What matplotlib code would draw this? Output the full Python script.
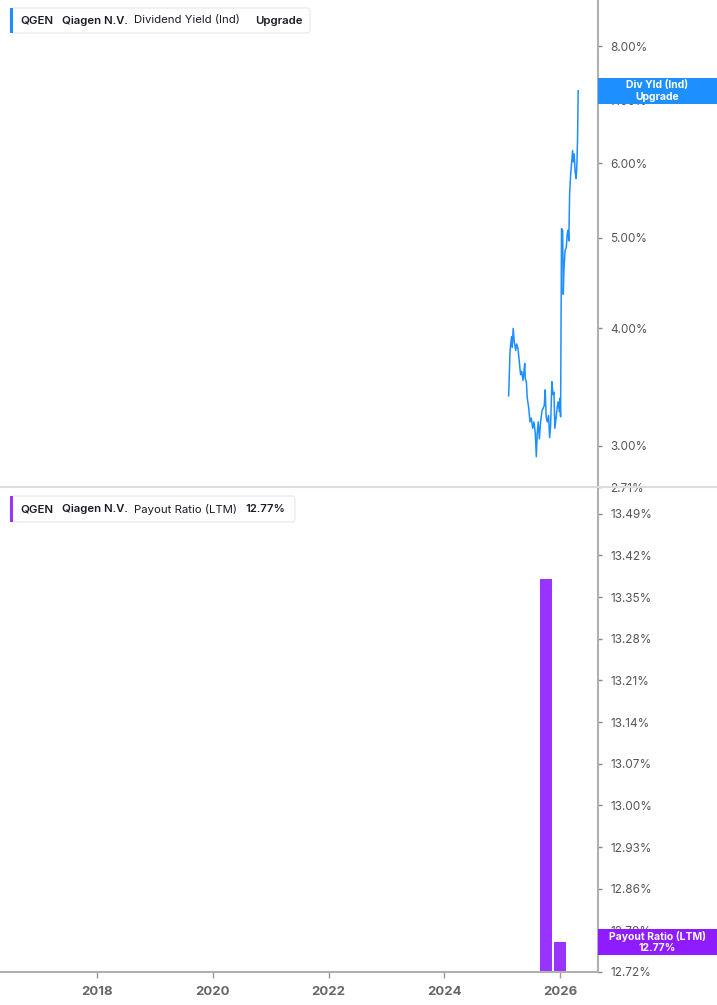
import matplotlib
matplotlib.use("Agg")
import matplotlib.pyplot as plt
import matplotlib.dates as mdates
import matplotlib.ticker as mticker
from matplotlib.lines import Line2D
from matplotlib.patches import Rectangle, FancyBboxPatch
import pandas as pd

plt.rcParams['font.family'] = ['Inter', 'DejaVu Sans']

# dividend yield (Ind), %
yield_dates = ['2025-02-09', '2025-02-11', '2025-02-18', '2025-02-22', '2025-02-28',
               '2025-03-04', '2025-03-10', '2025-03-17', '2025-03-26', '2025-04-01',
               '2025-04-09', '2025-04-16', '2025-04-22', '2025-04-26', '2025-05-03',
               '2025-05-11', '2025-05-17', '2025-05-22', '2025-05-25', '2025-06-01',
               '2025-06-07', '2025-06-16', '2025-06-24', '2025-07-02', '2025-07-11',
               '2025-07-19', '2025-07-27', '2025-08-03', '2025-08-09', '2025-08-15',
               '2025-08-22', '2025-08-30', '2025-09-08', '2025-09-16', '2025-09-22',
               '2025-09-28', '2025-10-04', '2025-10-11', '2025-10-19', '2025-10-26',
               '2025-11-01', '2025-11-09', '2025-11-16', '2025-11-22', '2025-11-28',
               '2025-12-07', '2025-12-13', '2025-12-19', '2025-12-26', '2025-12-30',
               '2026-01-03', '2026-01-09', '2026-01-16', '2026-01-20', '2026-01-24',
               '2026-01-31', '2026-02-08', '2026-02-14', '2026-02-20', '2026-02-24',
               '2026-03-01', '2026-03-07', '2026-03-13', '2026-03-20', '2026-03-24',
               '2026-03-30', '2026-04-05', '2026-04-11', '2026-04-16', '2026-04-20',
               '2026-04-24']
yield_values = [3.39, 3.45, 3.78, 3.84, 3.92,
                3.82, 4.00, 3.87, 3.79, 3.85,
                3.81, 3.71, 3.62, 3.57, 3.60,
                3.52, 3.60, 3.67, 3.54, 3.51,
                3.37, 3.29, 3.18, 3.21, 3.13,
                3.18, 3.10, 2.92, 3.10, 3.18,
                3.05, 3.18, 3.27, 3.29, 3.31,
                3.44, 3.22, 3.18, 3.23, 3.06,
                3.15, 3.51, 3.40, 3.42, 3.13,
                3.23, 3.30, 3.34, 3.26, 3.37,
                3.22, 5.11, 5.09, 4.35, 4.61,
                4.84, 4.88, 5.05, 5.09, 4.96,
                5.57, 5.82, 5.99, 6.19, 6.02,
                6.14, 5.87, 5.78, 5.99, 6.37,
                7.17]

# payout ratio (LTM), %
payout_dates = ['2025-09-30', '2025-12-31']
payout_values = [13.38, 12.77]

yield_ticks = [2.71, 3, 4, 5, 6, 7, 8]
payout_ticks = [12.72, 12.79, 12.86, 12.93, 13.00, 13.07, 13.14, 13.21, 13.28, 13.35, 13.42, 13.49]
year_ticks = ['2018', '2020', '2022', '2024', '2026']

blue = '#1e8fff'
purple = '#9933ff'
purple_lbl = '#8f1bff'
grey_txt = '#555555'

W, H = 717, 1005
fig = plt.figure(figsize=(W / 100, H / 100), dpi=100)
right = 598 / W
ax1 = fig.add_axes([0, 1 - 487 / H, right, 487 / H])
ax2 = fig.add_axes([0, 1 - 972 / H, right, (972 - 487) / H], sharex=ax1)

yd = pd.to_datetime(yield_dates)
pd_ = pd.to_datetime(payout_dates)

ax1.plot(yd, yield_values, color=blue, lw=1.1)
ax1.set_yscale('log')
ax1.set_ylim(2.71, 8.96)
ax1.yaxis.set_major_locator(mticker.FixedLocator(yield_ticks))
ax1.yaxis.set_minor_locator(mticker.NullLocator())
ax1.yaxis.set_major_formatter(mticker.FuncFormatter(lambda v, p: '%.2f%%' % v))

ax2.bar(pd_, payout_values, width=76, color=purple)
ax2.set_ylim(12.72, 13.535)
ax2.yaxis.set_major_locator(mticker.FixedLocator(payout_ticks))
ax2.yaxis.set_major_formatter(mticker.FuncFormatter(lambda v, p: '%.2f%%' % v))

ax2.set_xlim(pd.Timestamp('2016-04-29'), pd.Timestamp('2026-08-27'))
ax2.xaxis.set_major_locator(mticker.FixedLocator([mdates.date2num(pd.Timestamp(y + '-01-01')) for y in year_ticks]))
ax2.xaxis.set_major_formatter(mticker.FixedFormatter(year_ticks))

for ax in (ax1, ax2):
    ax.set_facecolor('none')
    ax.yaxis.tick_right()
    for s in ('top', 'left', 'bottom'):
        ax.spines[s].set_visible(False)
    ax.spines['right'].set_color('#b0b0b0')
    ax.spines['right'].set_linewidth(1.5)
    ax.tick_params(axis='y', which='major', length=3, width=1, color='#888888',
                   labelsize=8.5, labelcolor=grey_txt, pad=6)

ax1.tick_params(axis='x', which='both', bottom=False, labelbottom=False)
ax2.spines['bottom'].set_visible(True)
ax2.spines['bottom'].set_color('#b0b0b0')
ax2.spines['bottom'].set_linewidth(1.5)
ax2.tick_params(axis='x', length=4, width=1, color='#999999', labelsize=9.5,
                labelcolor='#666666', pad=6)
for t in ax2.get_xticklabels():
    t.set_fontweight('bold')

# divider between panes
fig.add_artist(Line2D([0, 1], [1 - 487 / H, 1 - 487 / H], transform=fig.transFigure,
                      color='#dddddd', lw=1.5))


def legend_box(y0, y1, x1, color, parts):
    fig.add_artist(FancyBboxPatch((10 / W, 1 - y1 / H), (x1 - 10) / W, (y1 - y0) / H,
                                  boxstyle='round,pad=0,rounding_size=0.004',
                                  transform=fig.transFigure, facecolor='white',
                                  edgecolor='#ececec', lw=1))
    fig.add_artist(Rectangle((10 / W, 1 - y1 / H), 3 / W, (y1 - y0) / H,
                             transform=fig.transFigure, facecolor=color, edgecolor='none'))
    ym = 1 - (y0 + y1) / 2 / H
    for x, s, bold in parts:
        fig.text(x / W, ym, s, fontsize=8.2, color='#1c1c28', va='center', ha='left',
                 fontweight='semibold' if bold else 'normal')


legend_box(8, 33, 310, blue, [(20, 'QGEN', True), (62, 'Qiagen N.V.', True),
                              (134, 'Dividend Yield (Ind)', False), (255, 'Upgrade', True)])
legend_box(496, 522, 295, purple, [(20, 'QGEN', True), (62, 'Qiagen N.V.', True),
                                   (134, 'Payout Ratio (LTM)', False), (245, '12.77%', True)])


def last_label(ax, val, color, lines):
    yfig = fig.transFigure.inverted().transform(ax.transData.transform((0, val)))[1]
    h = 26 / H
    fig.add_artist(Rectangle((right, yfig - h / 2), 1 - right, h, transform=fig.transFigure,
                             facecolor=color, edgecolor='none', zorder=5))
    fig.text((right + 1) / 2, yfig + 6 / H, lines[0], fontsize=7.5, color='white',
             fontweight='bold', ha='center', va='center', zorder=6)
    fig.text((right + 1) / 2, yfig - 6 / H, lines[1], fontsize=7.5, color='white',
             fontweight='bold', ha='center', va='center', zorder=6)


last_label(ax1, yield_values[-1], blue, ['Div Yld (Ind)', 'Upgrade'])
last_label(ax2, payout_values[-1], purple_lbl, ['Payout Ratio (LTM)', '%.2f%%' % payout_values[-1]])

fig.savefig('out.png', dpi=100)
